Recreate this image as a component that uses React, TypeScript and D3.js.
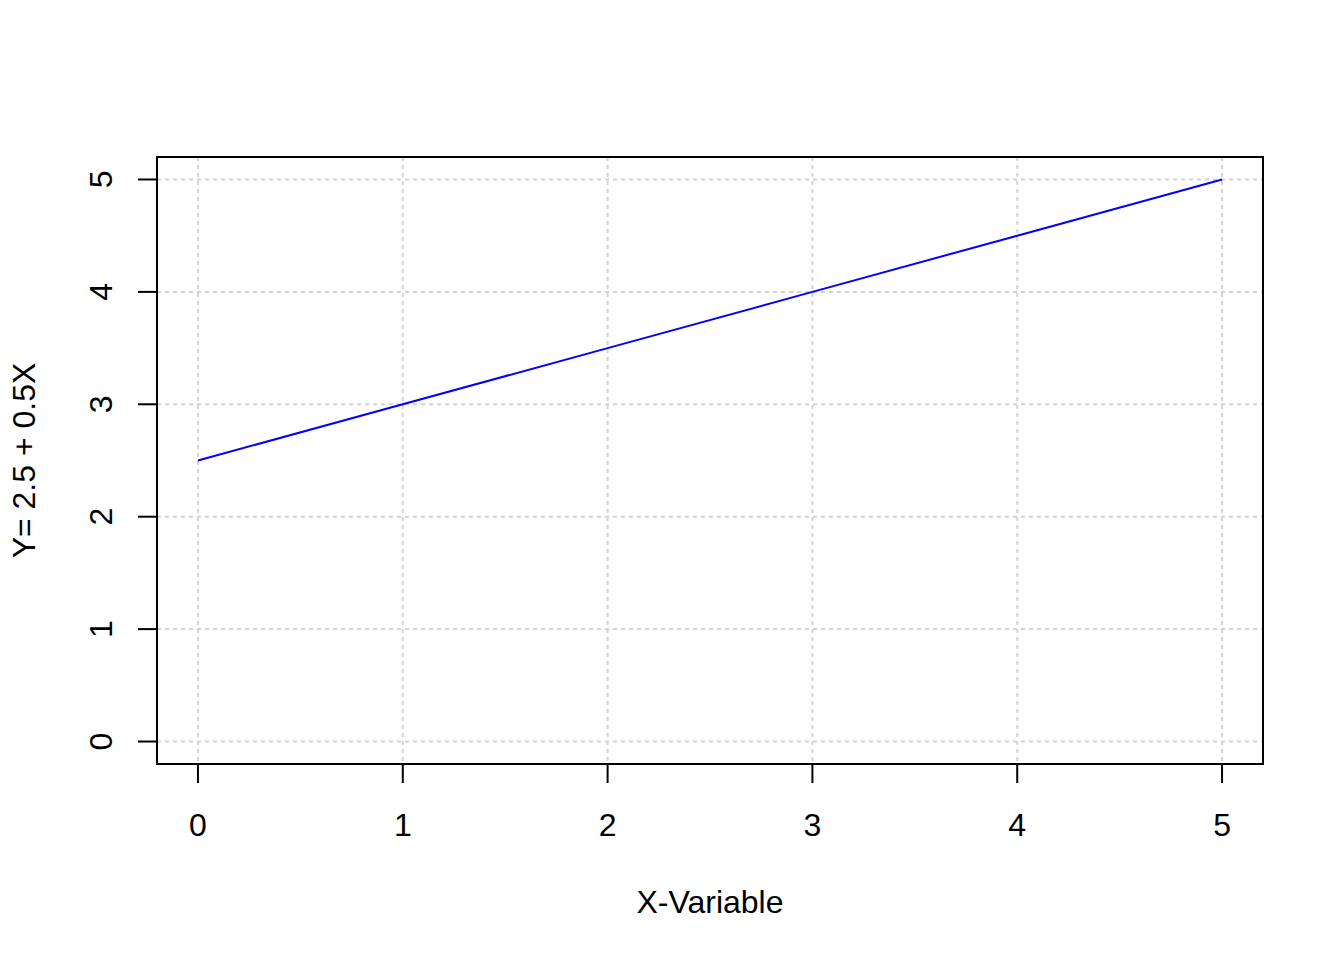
import React from "react";
import * as d3 from "d3";

const xValues = [0, 1, 2, 3, 4, 5];
const yValues = [2.5, 3, 3.5, 4, 4.5, 5];
const xTicks = [0, 1, 2, 3, 4, 5];
const yTicks = [0, 1, 2, 3, 4, 5];
const xTitle = "X-Variable";
const yTitle = "Y= 2.5 + 0.5X";

export default function App() {
  const W = 1344, H = 960;
  const left = 157, right = 1263, top = 157, bottom = 764;
  const x = d3.scaleLinear().domain([-0.2, 5.2]).range([left, right]);
  const y = d3.scaleLinear().domain([-0.2, 5.2]).range([bottom, top]);
  const line = d3.line<number>().x((_, i) => x(xValues[i])).y((d) => y(d));
  const font = "Liberation Sans, Arial, Helvetica, sans-serif";
  const fs = 32;
  return (
    <svg width={W} height={H} style={{ position: "absolute", left: 0, top: 0, background: "#fff" }}>
      <rect x={0} y={0} width={W} height={H} fill="#fff" />
      {xTicks.map((t) => (
        <line key={"gx" + t} x1={x(t)} x2={x(t)} y1={top} y2={bottom} stroke="#d3d3d3" strokeWidth={2} strokeDasharray="4,4" />
      ))}
      {yTicks.map((t) => (
        <line key={"gy" + t} x1={left} x2={right} y1={y(t)} y2={y(t)} stroke="#d3d3d3" strokeWidth={2} strokeDasharray="4,4" />
      ))}
      <path d={line(yValues) || ""} fill="none" stroke="#0000ff" strokeWidth={2} />
      <rect x={left} y={top} width={right - left} height={bottom - top} fill="none" stroke="#000" strokeWidth={2} />
      {xTicks.map((t) => (
        <g key={"tx" + t}>
          <line x1={x(t)} x2={x(t)} y1={bottom} y2={bottom + 19} stroke="#000" strokeWidth={2} />
          <text x={x(t)} y={836} textAnchor="middle" fontFamily={font} fontSize={fs} fill="#000">{t}</text>
        </g>
      ))}
      {yTicks.map((t) => (
        <g key={"ty" + t}>
          <line x1={left - 19} x2={left} y1={y(t)} y2={y(t)} stroke="#000" strokeWidth={2} />
          <text transform={`translate(112,${y(t)}) rotate(-90)`} textAnchor="middle" fontFamily={font} fontSize={fs} fill="#000">{t}</text>
        </g>
      ))}
      <text x={(left + right) / 2} y={913} textAnchor="middle" fontFamily={font} fontSize={fs} fill="#000">{xTitle}</text>
      <text transform={`translate(35,${(top + bottom) / 2}) rotate(-90)`} textAnchor="middle" fontFamily={font} fontSize={fs} fill="#000">{yTitle}</text>
    </svg>
  );
}
